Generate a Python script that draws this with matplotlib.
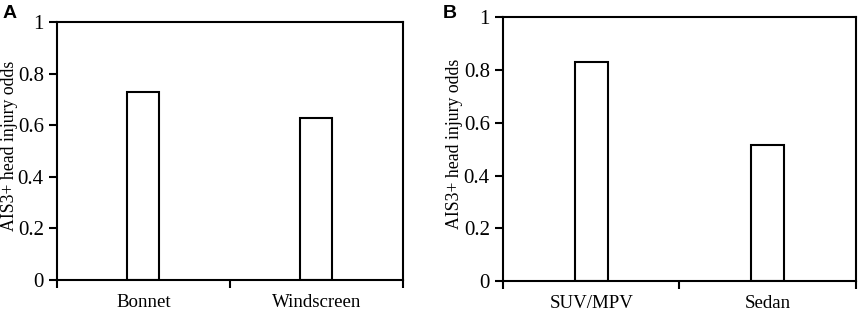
import matplotlib
matplotlib.use("Agg")
from matplotlib import pyplot as plt

plt.rcParams['font.family'] = ['Liberation Serif', 'DejaVu Serif']

cats_a = ["Bonnet", "Windscreen"]
vals_a = [0.729, 0.629]
cats_b = ["SUV/MPV", "Sedan"]
vals_b = [0.832, 0.516]
yticks = [0, 0.2, 0.4, 0.6, 0.8, 1]
ytick_labels = ["0", "0.2", "0.4", "0.6", "0.8", "1"]

fig = plt.figure(figsize=(8.58, 3.12), dpi=100)
ax_a = fig.add_axes([0.0664, 0.1026, 0.4033, 0.826])
ax_b = fig.add_axes([0.5862, 0.0994, 0.4114, 0.845])


def draw(ax, cats, vals, label_x):
    x = list(range(len(cats)))
    ax.bar(x, vals, width=0.185, color="white", edgecolor="black", linewidth=1.5)
    ax.set_xlim(-0.5, len(cats) - 0.5)
    ax.set_ylim(0, 1)
    ax.set_yticks(yticks)
    ax.set_yticklabels(ytick_labels, fontsize=15)
    ax.set_xticks([i - 0.5 for i in range(len(cats) + 1)])
    ax.set_xticklabels([])
    ax.set_xticks(x, minor=True)
    ax.set_xticklabels(cats, minor=True, fontsize=13.6)
    ax.tick_params(axis="x", which="minor", length=0, pad=10)
    ax.tick_params(axis="both", which="major", direction="out", length=5.5, width=1.5)
    ax.tick_params(axis="y", pad=4)
    for s in ax.spines.values():
        s.set_linewidth(1.5)
    ax.set_ylabel("AIS3+ head injury odds", fontsize=12.8)
    ax.yaxis.set_label_coords(label_x, 0.52)


draw(ax_a, cats_a, vals_a, -0.113)
draw(ax_b, cats_b, vals_b, -0.113)

fig.text(3 / 858, 1 - 18 / 312, "A", fontsize=14, fontweight="bold",
         family="Liberation Sans", va="baseline", ha="left")
fig.text(443 / 858, 1 - 18 / 312, "B", fontsize=14, fontweight="bold",
         family="Liberation Sans", va="baseline", ha="left")

fig.savefig("out.png", dpi=100)
